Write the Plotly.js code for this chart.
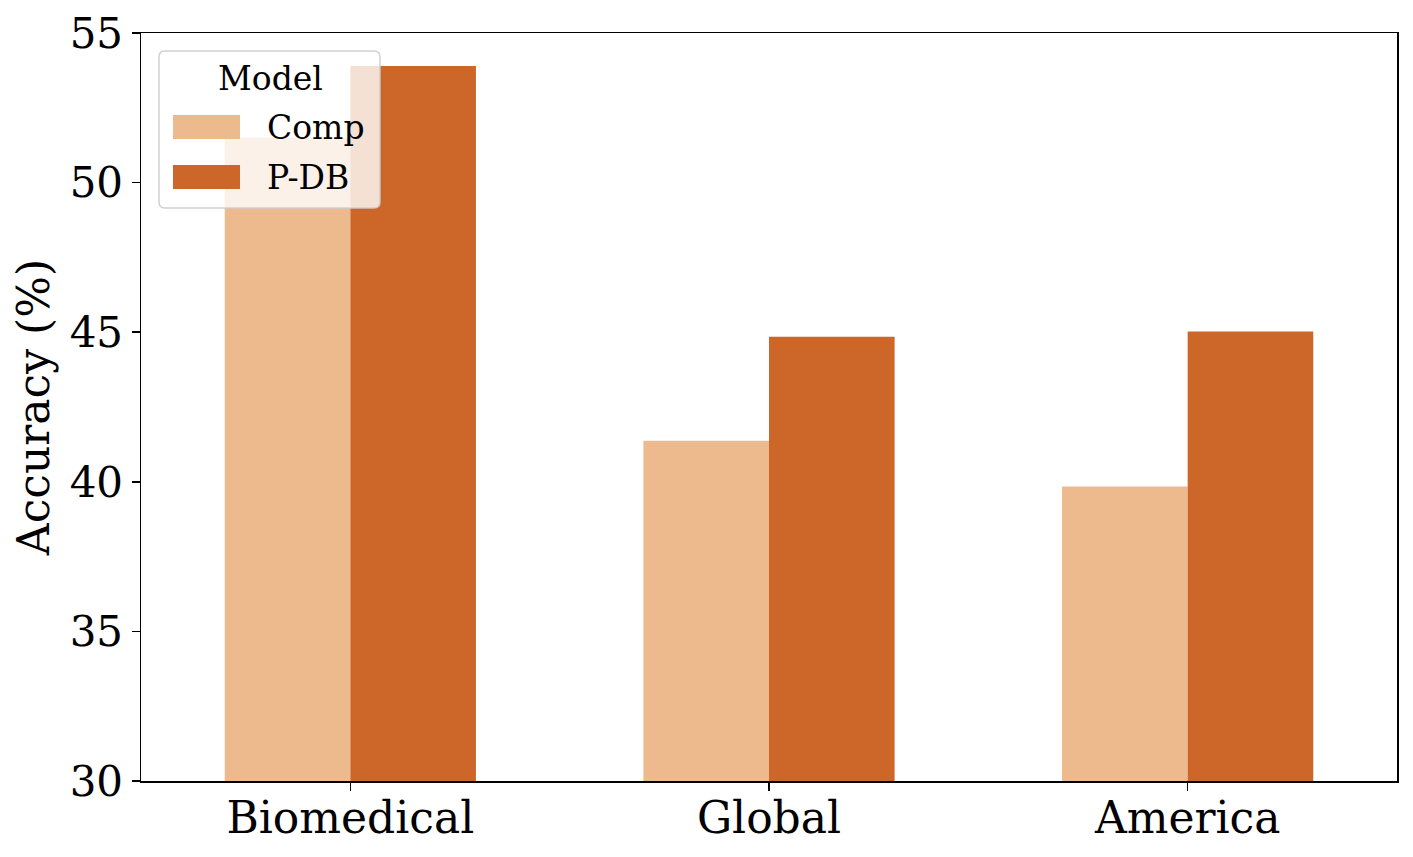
<!DOCTYPE html>
<html>
<head>
<meta charset="utf-8">
<script src="https://cdn.plot.ly/plotly-3.0.1.min.js"></script>
<style>html,body{margin:0;padding:0;background:#fff;}#chart{width:1413px;height:857px;}</style>
</head>
<body>
<div id="chart"></div>
<script>
const categories = ["Biomedical", "Global", "America"];
const compValues = [51.5, 41.37, 39.84];
const pdbValues = [53.9, 44.85, 45.02];
const seriesNames = ["Comp", "P-DB"];
const legendTitle = "Model";
const yTicks = [30, 35, 40, 45, 50, 55];

const colors = ["#EDBA8D", "#CC6629"];
const font = "DejaVu Serif, serif";

// plot area in px
const L = 141, R = 16, T = 33, B = 76, W = 1413, H = 857;
const PW = W - L - R, PH = H - T - B;
const px = x => (x - L) / PW;
const py = y => (H - B - y) / PH;

function roundedRect(x0, y0, x1, y1, r) {
  const a = px(x0), b = px(x1), c = py(y1), d = py(y0);
  const rx = r / PW, ry = r / PH;
  return `M ${a + rx} ${c} L ${b - rx} ${c} Q ${b} ${c} ${b} ${c + ry} L ${b} ${d - ry} Q ${b} ${d} ${b - rx} ${d} L ${a + rx} ${d} Q ${a} ${d} ${a} ${d - ry} L ${a} ${c + ry} Q ${a} ${c} ${a + rx} ${c} Z`;
}

const traces = [
  {type: "bar", name: seriesNames[0], x: categories, y: compValues, marker: {color: colors[0]}, showlegend: false, hoverinfo: "x+y"},
  {type: "bar", name: seriesNames[1], x: categories, y: pdbValues, marker: {color: colors[1]}, showlegend: false, hoverinfo: "x+y"}
];

const shapes = [
  {type: "path", xref: "paper", yref: "paper", path: roundedRect(159, 51, 380, 208, 6),
   fillcolor: "rgba(255,255,255,0.8)", line: {color: "rgba(204,204,204,0.9)", width: 1.5}, layer: "above"},
  {type: "rect", xref: "paper", yref: "paper", x0: px(173), x1: px(240), y0: py(139), y1: py(115),
   fillcolor: colors[0], line: {width: 0}, layer: "above"},
  {type: "rect", xref: "paper", yref: "paper", x0: px(173), x1: px(240), y0: py(189), y1: py(165),
   fillcolor: colors[1], line: {width: 0}, layer: "above"}
];

const annotations = [
  {xref: "paper", yref: "paper", x: px(270), y: py(78), text: legendTitle, showarrow: false,
   xanchor: "center", yanchor: "middle", font: {family: font, size: 33, color: "#000"}},
  {xref: "paper", yref: "paper", x: px(265), y: py(128), text: seriesNames[0], showarrow: false,
   xanchor: "left", yanchor: "middle", font: {family: font, size: 33, color: "#000"}},
  {xref: "paper", yref: "paper", x: px(265), y: py(177), text: seriesNames[1], showarrow: false,
   xanchor: "left", yanchor: "middle", font: {family: font, size: 33, color: "#000"}}
];

const layout = {
  width: W, height: H,
  margin: {l: L, r: R, t: T, b: B, pad: 0},
  paper_bgcolor: "#fff", plot_bgcolor: "#fff",
  barmode: "group", bargap: 0.4, bargroupgap: 0,
  font: {family: font, color: "#000"},
  xaxis: {
    type: "category", range: [-0.5, 2.5],
    showline: true, mirror: true, linecolor: "#000", linewidth: 1.5,
    ticks: "outside", ticklen: 8, tickwidth: 1.5, tickcolor: "#000",
    showgrid: false, zeroline: false, ticklabelstandoff: -10,
    tickfont: {family: font, size: 44, color: "#000"}
  },
  yaxis: {
    range: [30, 55], tickvals: yTicks, ticktext: yTicks.map(String),
    showline: true, mirror: true, linecolor: "#000", linewidth: 1.5,
    ticks: "outside", ticklen: 8, tickwidth: 1.5, tickcolor: "#000",
    showgrid: false, zeroline: false,
    tickfont: {family: font, size: 42, color: "#000"},
    title: {text: "Accuracy (%)", font: {family: font, size: 44, color: "#000"}, standoff: 6}
  },
  shapes: shapes,
  annotations: annotations
};

Plotly.newPlot("chart", traces, layout, {displayModeBar: false, staticPlot: true});
</script>
</body>
</html>
